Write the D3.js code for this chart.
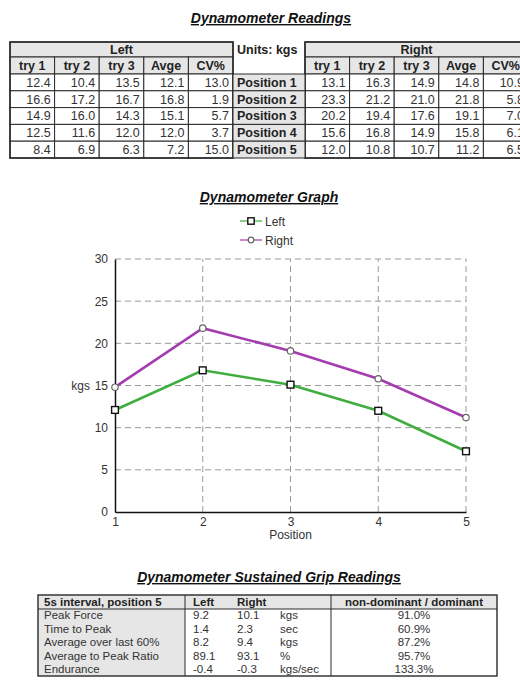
<!DOCTYPE html>
<html>
<head>
<meta charset="utf-8">
<script src="https://cdn.jsdelivr.net/npm/d3@7"></script>
<style>
  body { margin: 0; background: #fff; }
  svg text { font-family: "Liberation Sans", Arial, sans-serif; }
  .title { font-size: 14px; font-weight: bold; font-style: italic; text-decoration: underline; fill: #111; }
</style>
</head>
<body>
<div id="page"></div>
<script>
// ---- data ----
const positions = ["Position 1", "Position 2", "Position 3", "Position 4", "Position 5"];
const tryHeaders = ["try 1", "try 2", "try 3", "Avge", "CV%"];
const leftTries = [[12.4, 10.4, 13.5], [16.6, 17.2, 16.7], [14.9, 16.0, 14.3], [12.5, 11.6, 12.0], [8.4, 6.9, 6.3]];
const leftAvg = [12.1, 16.8, 15.1, 12.0, 7.2];
const leftCV = [13.0, 1.9, 5.7, 3.7, 15.0];
const rightTries = [[13.1, 16.3, 14.9], [23.3, 21.2, 21.0], [20.2, 19.4, 17.6], [15.6, 16.8, 14.9], [12.0, 10.8, 10.7]];
const rightAvg = [14.8, 21.8, 19.1, 15.8, 11.2];
const rightCV = [10.9, 5.8, 7.0, 6.1, 6.5];

const positionNums = [1, 2, 3, 4, 5];

const sustMetrics = ["Peak Force", "Time to Peak", "Average over last 60%", "Average to Peak Ratio", "Endurance"];
const sustLeft = [9.2, 1.4, 8.2, 89.1, -0.4];
const sustRight = [10.1, 2.3, 9.4, 93.1, -0.3];
const sustUnits = ["kgs", "sec", "kgs", "%", "kgs/sec"];
const sustRatio = ["91.0%", "60.9%", "87.2%", "95.7%", "133.3%"];

// ---- svg ----
const W = 520, H = 690;
const svg = d3.select("#page").append("svg")
    .attr("width", W)
    .attr("height", H);

const gray = "#e6e6e6";
const border = "#2a2a2a";
const fmt = d => d.toFixed(1);   // plain hyphen minus like the sheet

// ================= top table =================
svg.append("text").attr("class", "title")
    .attr("x", 271).attr("y", 23)
    .attr("text-anchor", "middle")
    .text("Dynamometer Readings");

const t1 = {top: 42, h1: 15, h2: 17, rowH: 16.8};
const dataTop = t1.top + t1.h1 + t1.h2;
const rowY = d3.scaleBand().domain(d3.range(positions.length))
    .range([dataTop, dataTop + t1.rowH * positions.length]);

function sideTable(x0, x1, label, tries, avg, cv) {
    let g = svg.append("g");
    let col = d3.scaleBand().domain(d3.range(5)).range([x0, x1]);
    let rows = tries.map((t, i) => t.concat([avg[i], cv[i]]));

    // header "Left"/"Right"
    g.append("rect").attr("x", x0).attr("y", t1.top).attr("width", x1 - x0).attr("height", t1.h1)
        .attr("fill", gray).attr("stroke", border).attr("stroke-width", 1);
    g.append("text").attr("x", (x0 + x1) / 2).attr("y", t1.top + t1.h1 - 3.5)
        .attr("text-anchor", "middle").attr("font-size", "12.5px").attr("font-weight", "bold")
        .attr("fill", "#222").text(label);

    // sub headers
    g.selectAll(".sub").data(tryHeaders).enter().append("rect")
        .attr("x", (d, i) => col(i)).attr("y", t1.top + t1.h1)
        .attr("width", col.bandwidth()).attr("height", t1.h2)
        .attr("fill", gray).attr("stroke", border).attr("stroke-width", 1);
    g.selectAll(".subt").data(tryHeaders).enter().append("text")
        .attr("x", (d, i) => col(i) + col.bandwidth() / 2).attr("y", t1.top + t1.h1 + t1.h2 - 4.5)
        .attr("text-anchor", "middle").attr("font-size", "12.5px").attr("font-weight", "bold")
        .attr("fill", "#222").text(d => d);

    // data cells
    rows.forEach((r, i) => {
        g.selectAll(".c" + i).data(r).enter().append("rect")
            .attr("x", (d, j) => col(j)).attr("y", rowY(i))
            .attr("width", col.bandwidth()).attr("height", rowY.bandwidth())
            .attr("fill", "#fff").attr("stroke", border).attr("stroke-width", 1);
        g.selectAll(".ct" + i).data(r).enter().append("text")
            .attr("x", (d, j) => col(j) + col.bandwidth() - 4).attr("y", rowY(i) + rowY.bandwidth() - 4)
            .attr("text-anchor", "end").attr("font-size", "12.5px").attr("fill", "#333")
            .text(d => fmt(d));
    });

    g.append("rect").attr("x", x0).attr("y", t1.top)
        .attr("width", x1 - x0).attr("height", rowY.range()[1] - t1.top)
        .attr("fill", "none").attr("stroke", border).attr("stroke-width", 1.6);
}

sideTable(10, 233, "Left", leftTries, leftAvg, leftCV);
sideTable(305, 528, "Right", rightTries, rightAvg, rightCV);

// middle column
svg.append("text").attr("x", 237).attr("y", t1.top + 12)
    .attr("font-size", "12.5px").attr("font-weight", "bold").attr("fill", "#222")
    .text("Units: kgs");
svg.selectAll(".pos").data(positions).enter().append("rect")
    .attr("x", 233).attr("y", (d, i) => rowY(i))
    .attr("width", 72).attr("height", rowY.bandwidth())
    .attr("fill", gray).attr("stroke", border).attr("stroke-width", 1);
svg.selectAll(".post").data(positions).enter().append("text")
    .attr("x", 237).attr("y", (d, i) => rowY(i) + rowY.bandwidth() - 4)
    .attr("font-size", "12.5px").attr("font-weight", "bold").attr("fill", "#222")
    .text(d => d);

// ================= graph =================
svg.append("text").attr("class", "title")
    .attr("x", 269).attr("y", 202)
    .attr("text-anchor", "middle")
    .text("Dynamometer Graph");

const x = d3.scaleLinear().domain([1, 5]).range([115, 466]);
const y = d3.scaleLinear().domain([0, 30]).range([512, 259]);

const series = [
    {name: "Left", values: leftAvg, color: "#3fae3f", marker: "square"},
    {name: "Right", values: rightAvg, color: "#a43cb0", marker: "circle"}
];

// grid
svg.append("g").selectAll("line").data(y.ticks(6).filter(d => d > 0)).enter().append("line")
    .attr("x1", x(1)).attr("x2", x(5))
    .attr("y1", d => y(d)).attr("y2", d => y(d))
    .attr("stroke", "#9a9a9a").attr("stroke-dasharray", "6,4");
svg.append("g").selectAll("line").data(positionNums.filter(d => d > 1)).enter().append("line")
    .attr("x1", d => x(d)).attr("x2", d => x(d))
    .attr("y1", y(0)).attr("y2", y(30))
    .attr("stroke", "#9a9a9a").attr("stroke-dasharray", "6,4");

// axes
const yAxis = svg.append("g").attr("transform", `translate(${x(1)},0)`)
    .call(d3.axisLeft(y).tickValues(y.ticks(6)).tickSize(0).tickPadding(7));
const xAxis = svg.append("g").attr("transform", `translate(0,${y(0)})`)
    .call(d3.axisBottom(x).tickValues(positionNums).tickFormat(d3.format("d")).tickSize(0).tickPadding(5));
[yAxis, xAxis].forEach(a => {
    a.select(".domain").attr("stroke", "#111").attr("stroke-width", 1.5);
    a.selectAll("text").attr("font-size", "12px").attr("fill", "#333")
        .attr("font-family", "'Liberation Sans', Arial, sans-serif");
});

svg.append("text").attr("x", 90).attr("y", y(15) + 4)
    .attr("text-anchor", "end").attr("font-size", "12px").attr("fill", "#333").text("kgs");
svg.append("text").attr("x", (x(1) + x(5)) / 2).attr("y", 539)
    .attr("text-anchor", "middle").attr("font-size", "12px").attr("fill", "#333").text("Position");

const line = d3.line().x((d, i) => x(positionNums[i])).y(d => y(d));

function drawMarker(sel, type, cx, cy, s) {
    if (type === "square") {
        sel.append("rect").attr("x", cx - s).attr("y", cy - s).attr("width", 2 * s).attr("height", 2 * s)
            .attr("fill", "#fff").attr("stroke", "#111").attr("stroke-width", 1.4);
    } else {
        sel.append("circle").attr("cx", cx).attr("cy", cy).attr("r", s)
            .attr("fill", "#fff").attr("stroke", "#666").attr("stroke-width", 1.2);
    }
}

series.forEach(s => {
    svg.append("path").datum(s.values)
        .attr("d", line).attr("fill", "none")
        .attr("stroke", s.color).attr("stroke-width", 2.6);
    let mg = svg.append("g");
    s.values.forEach((v, i) => drawMarker(mg, s.marker, x(positionNums[i]), y(v), s.marker === "square" ? 3.4 : 3.2));
});

// legend
const legend = svg.append("g");
series.forEach((s, i) => {
    let ly = 221 + i * 19;
    legend.append("line").attr("x1", 240).attr("x2", 262).attr("y1", ly).attr("y2", ly)
        .attr("stroke", s.color).attr("stroke-width", 1.2);
    drawMarker(legend, s.marker, 251, ly, s.marker === "square" ? 3.2 : 2.8);
    legend.append("text").attr("x", 265).attr("y", ly + 4.5)
        .attr("font-size", "12px").attr("fill", "#333").text(s.name);
});

// ================= sustained table =================
svg.append("text").attr("class", "title")
    .attr("x", 269).attr("y", 582)
    .attr("text-anchor", "middle")
    .text("Dynamometer Sustained Grip Readings");

const t3 = {x0: 38, x1: 497, top: 595, hh: 14, rowH: 13.4, c1: 185, c2: 331};
const sRow = d3.scaleBand().domain(d3.range(sustMetrics.length))
    .range([t3.top + t3.hh, t3.top + t3.hh + t3.rowH * sustMetrics.length]);
const tBottom = sRow.range()[1];

svg.append("rect").attr("x", t3.x0).attr("y", t3.top).attr("width", t3.x1 - t3.x0).attr("height", t3.hh)
    .attr("fill", gray);
svg.append("rect").attr("x", t3.x0).attr("y", t3.top).attr("width", t3.c1 - t3.x0).attr("height", tBottom - t3.top)
    .attr("fill", gray);
svg.append("line").attr("x1", t3.x0).attr("x2", t3.x1).attr("y1", t3.top + t3.hh).attr("y2", t3.top + t3.hh)
    .attr("stroke", border).attr("stroke-width", 1);
[t3.c1, t3.c2].forEach(cx => {
    svg.append("line").attr("x1", cx).attr("x2", cx).attr("y1", t3.top).attr("y2", tBottom)
        .attr("stroke", border).attr("stroke-width", 1);
});
svg.append("rect").attr("x", t3.x0).attr("y", t3.top).attr("width", t3.x1 - t3.x0).attr("height", tBottom - t3.top)
    .attr("fill", "none").attr("stroke", border).attr("stroke-width", 1.4);

const hdrY = t3.top + t3.hh - 3;
const hdr = [
    {t: "5s interval, position 5", x: 44, a: "start"},
    {t: "Left", x: 193, a: "start"},
    {t: "Right", x: 237, a: "start"},
    {t: "non-dominant / dominant", x: (t3.c2 + t3.x1) / 2, a: "middle"}
];
svg.selectAll(".sh").data(hdr).enter().append("text")
    .attr("x", d => d.x).attr("y", hdrY).attr("text-anchor", d => d.a)
    .attr("font-size", "11.5px").attr("font-weight", "bold").attr("fill", "#222")
    .text(d => d.t);

const cellY = i => sRow(i) + sRow.bandwidth() - 3;
function sCol(arr, xx, anchor, f) {
    svg.append("g").selectAll("text").data(arr).enter().append("text")
        .attr("x", xx).attr("y", (d, i) => cellY(i)).attr("text-anchor", anchor)
        .attr("font-size", "11.5px").attr("fill", "#333")
        .text(f);
}
sCol(sustMetrics, 44, "start", d => d);
sCol(sustLeft, 193, "start", d => fmt(d));
sCol(sustRight, 237, "start", d => fmt(d));
sCol(sustUnits, 280, "start", d => d);
sCol(sustRatio, (t3.c2 + t3.x1) / 2, "middle", d => d);
</script>
</body>
</html>
